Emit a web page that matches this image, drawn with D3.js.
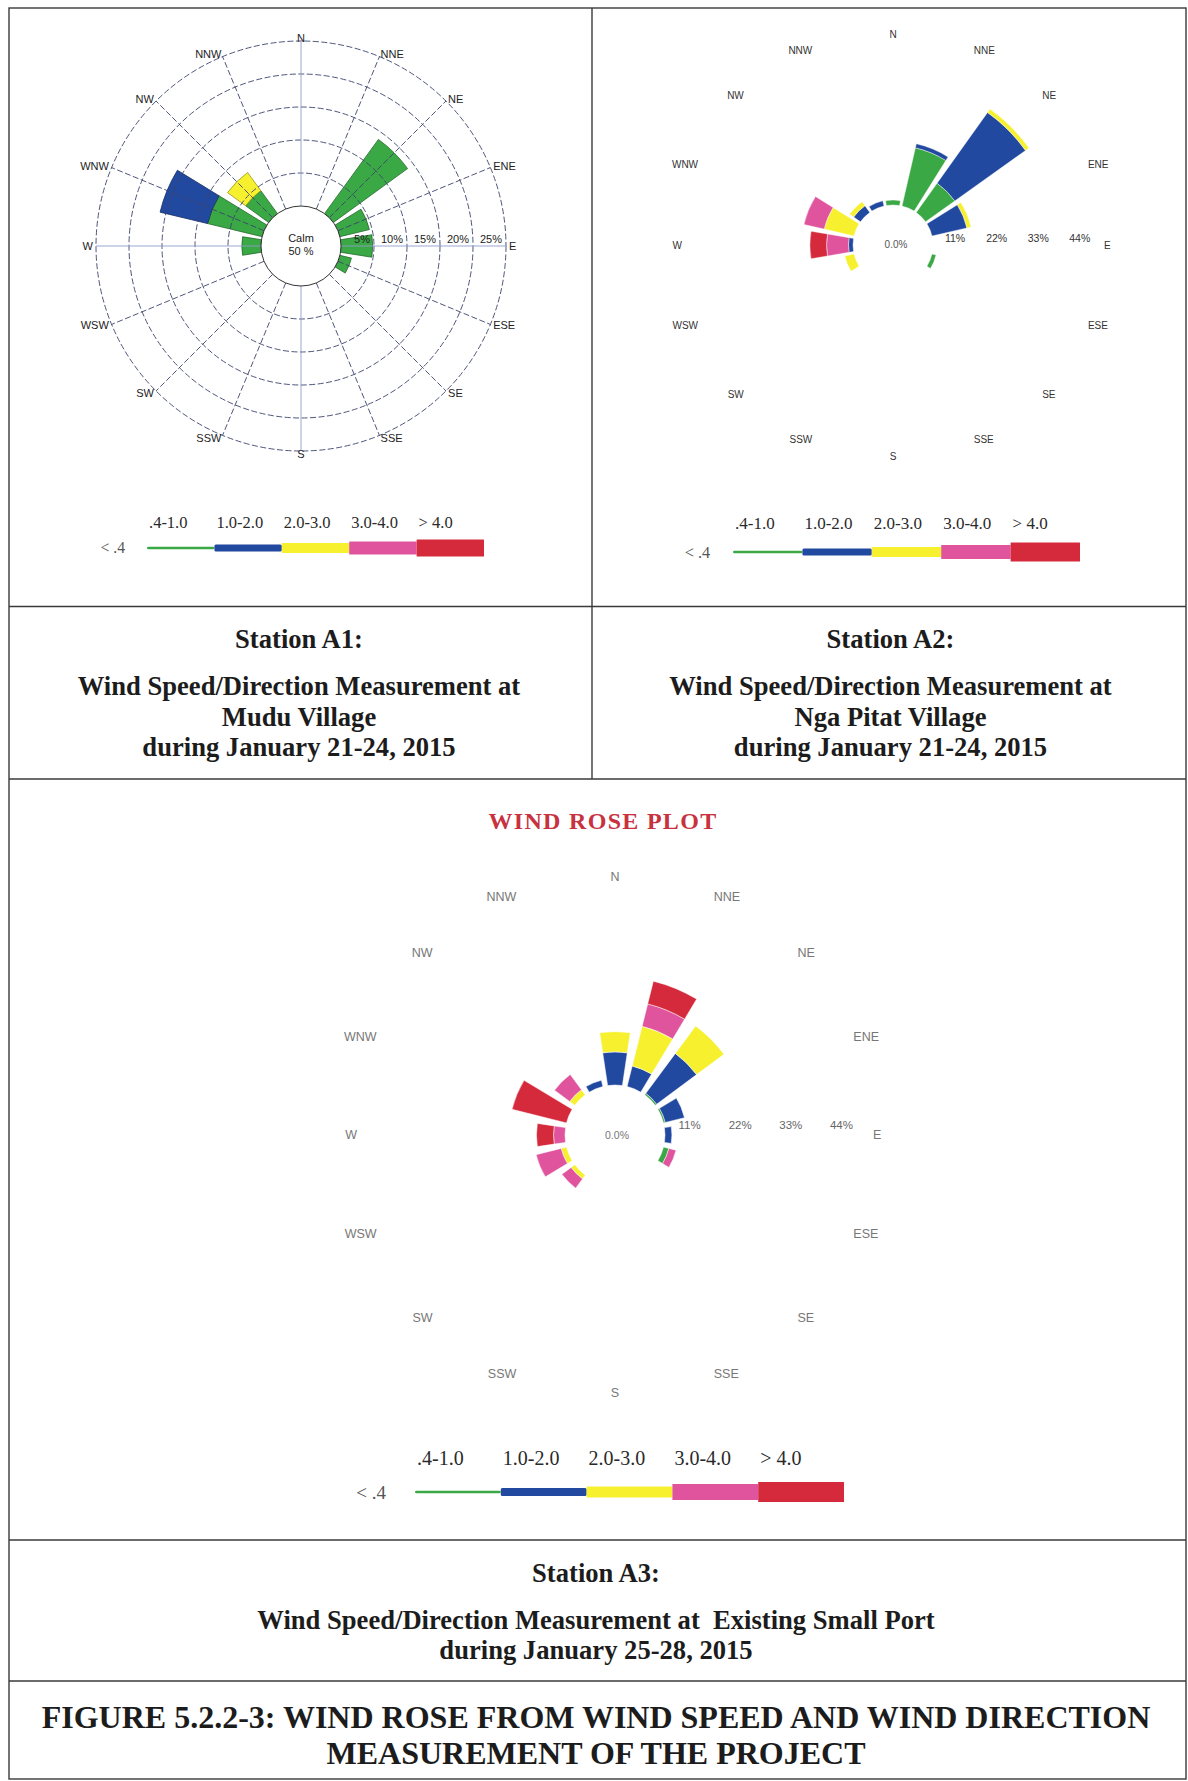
<!DOCTYPE html>
<html><head><meta charset="utf-8">
<script src="https://cdn.jsdelivr.net/npm/d3@7"></script>
<style>
  body { margin: 0; background: #fff; }
  svg { display: block; }
  .sans { font-family: "Liberation Sans", Arial, sans-serif; }
  .serif { font-family: "Liberation Serif", "Times New Roman", serif; }
</style>
</head><body>
<svg id="fig" width="1188" height="1781"></svg>
<script>
// ---- shared categories ----
const directions = ["N","NNE","NE","ENE","E","ESE","SE","SSE","S","SSW","SW","WSW","W","WNW","NW","NNW"];
const speedClasses = [".4-1.0","1.0-2.0","2.0-3.0","3.0-4.0","> 4.0"];
const calmClass = "< .4";
const classColors = ["#3aa845","#2249a0","#f6f02e","#e0549e","#d52a3c"];

// ---- Station A1 (Mudu Village), frequency % per direction ----
const a1Speed04to10 = [0,0,13.9,4.6,4.8,1.8,0,0,0,0,0,0,2.9,8.5,4.3,0];
const a1Speed10to20 = [0,0,0,0,0,0,0,0,0,0,0,0,0,7.4,0,0];
const a1Speed20to30 = [0,0,0,0,0,0,0,0,0,0,0,0,0,0,3.4,0];
const a1Speed30to40 = [0,0,0,0,0,0,0,0,0,0,0,0,0,0,0,0];
const a1SpeedOver40 = [0,0,0,0,0,0,0,0,0,0,0,0,0,0,0,0];
const a1Calm = 50;
const a1RingTicks = [5,10,15,20,25];

// ---- Station A2 (Nga Pitat Village) ----
const a2Speed04to10 = [1.3,15.8,9.5,0,0,1.1,0,0,0,0,0,0,0,0,0,0];
const a2Speed10to20 = [0,1.1,23.0,9.5,0,0,0,0,0,0,0,0,1.2,0,2.2,1.4];
const a2Speed20to30 = [0,0,1.1,1.1,0,0,0,0,0,0,0,2.5,0,8.1,1.3,0];
const a2Speed30to40 = [0,0,0,0,0,0,0,0,0,0,0,0,5.8,5.5,0,0];
const a2SpeedOver40 = [0,0,0,0,0,0,0,0,0,0,0,0,4.4,0,0,0];
const a2Calm = "0.0%";
const a2RingTicks = [11,22,33,44];

// ---- Station A3 (Existing Small Port) ----
const a3Speed04to10 = [0,0,0.4,0.4,0,1.2,0,0,0,0,0,0,0,0,0,0];
const a3Speed10to20 = [7.2,4.6,10.8,4.3,1.5,0,0,0,0,0,0,0,0,0,0,1.4];
const a3Speed20to30 = [4.4,8.9,7.4,0,0,0,0,0,0,0,1.0,1.2,0,0,1.4,0];
const a3Speed30to40 = [0,5.0,0,0,0,1.6,0,0,0,0,2.5,5.6,2.5,0,4.1,0];
const a3SpeedOver40 = [0,5.1,0,0,0,0,0,0,0,0,0,0,3.7,12.2,0,0];
const a3Calm = "0.0%";
const a3RingTicks = [11,22,33,44];

// ---- captions ----
const captionA1 = ["Station A1:", "Wind Speed/Direction Measurement at", "Mudu Village", "during January 21-24, 2015"];
const captionA2 = ["Station A2:", "Wind Speed/Direction Measurement at", "Nga Pitat Village", "during January 21-24, 2015"];
const captionA3 = ["Station A3:", "Wind Speed/Direction Measurement at\u00a0 Existing Small Port", "during January 25-28, 2015"];
const figureTitle = ["FIGURE 5.2.2-3: WIND ROSE FROM WIND SPEED AND WIND DIRECTION", "MEASUREMENT OF THE PROJECT"];
const plotTitle = "WIND ROSE PLOT";

const svg = d3.select("#fig");
const DEG = Math.PI / 180;
const SECTOR = 360 / directions.length;

// stack the speed classes outward for every direction
function stackRose(series) {
  const out = [];
  directions.forEach((dir, i) => {
    let acc = 0;
    series.forEach((arr, k) => {
      const v = arr[i];
      if (v > 0) out.push({ dir, i, k, v0: acc, v1: acc + v });
      acc += v;
    });
  });
  return out;
}

function drawWedges(g, series, r, widthDeg, strokeFn, strokeW) {
  const arc = d3.arc()
    .innerRadius(d => r(d.v0))
    .outerRadius(d => r(d.v1))
    .startAngle(d => (d.i * SECTOR - widthDeg / 2) * DEG)
    .endAngle(d => (d.i * SECTOR + widthDeg / 2) * DEG);
  g.selectAll("path.wedge").data(stackRose(series)).join("path")
    .attr("class", "wedge")
    .attr("d", arc)
    .attr("fill", d => classColors[d.k])
    .attr("stroke", d => strokeFn(d))
    .attr("stroke-width", strokeW);
}

function drawDirLabels(g, R, size, color, cls) {
  g.selectAll("text.dir").data(directions).join("text")
    .attr("class", "dir " + cls)
    .attr("x", (d, i) => R * Math.sin(i * SECTOR * DEG))
    .attr("y", (d, i) => -R * Math.cos(i * SECTOR * DEG))
    .attr("dy", "0.35em")
    .attr("text-anchor", (d, i) => {
      const s = Math.sin(i * SECTOR * DEG);
      return Math.abs(s) < 0.01 ? "middle" : (s > 0 ? "start" : "end");
    })
    .attr("font-size", size)
    .attr("fill", color)
    .text(d => d);
}

function drawLegend(x0, segW, labelY, barY, heights, fontSize, calmGap) {
  const g = svg.append("g");
  const x = d3.scaleLinear().domain([0, speedClasses.length]).range([x0, x0 + segW * speedClasses.length]);
  g.selectAll("rect").data(speedClasses).join("rect")
    .attr("x", (d, i) => x(i))
    .attr("y", (d, i) => barY - heights[i] / 2)
    .attr("width", (d, i) => x(i + 1) - x(i))
    .attr("height", (d, i) => heights[i])
    .attr("rx", (d, i) => (i < 2 ? 1.5 : 0.5))
    .attr("fill", (d, i) => classColors[i]);
  g.selectAll("text.cls").data(speedClasses).join("text")
    .attr("class", "cls serif")
    .attr("x", (d, i) => x(i) + 2)
    .attr("y", labelY)
    .attr("dy", "0.35em")
    .attr("font-size", fontSize)
    .attr("fill", "#2a2a2a")
    .text(d => d);
  g.append("text").attr("class", "serif")
    .attr("x", x0 - calmGap).attr("y", barY).attr("dy", "0.35em")
    .attr("text-anchor", "end")
    .attr("font-size", fontSize * 0.95)
    .attr("fill", "#555")
    .text(calmClass);
}

// ================= Station A1 =================
{
  const cx = 301, cy = 246;
  const r = d3.scaleLinear().domain([0, 25]).range([40, 205]);
  const g = svg.append("g").attr("transform", `translate(${cx},${cy})`);
  const series = [a1Speed04to10, a1Speed10to20, a1Speed20to30, a1Speed30to40, a1SpeedOver40];
  drawWedges(g, series, r, 18, d => d3.color(classColors[d.k]).darker(1.3), 0.8);

  // grid above the bars
  const grid = g.append("g").attr("fill", "none");
  grid.selectAll("circle.ring").data(a1RingTicks).join("circle")
    .attr("class", "ring").attr("r", d => r(d))
    .attr("stroke", "#3b436c").attr("stroke-width", 0.9).attr("stroke-dasharray", "6,2.5");
  grid.selectAll("line.spoke").data(directions).join("line")
    .attr("class", "spoke")
    .attr("x1", (d, i) => r(0) * Math.sin(i * SECTOR * DEG))
    .attr("y1", (d, i) => -r(0) * Math.cos(i * SECTOR * DEG))
    .attr("x2", (d, i) => r(25) * Math.sin(i * SECTOR * DEG))
    .attr("y2", (d, i) => -r(25) * Math.cos(i * SECTOR * DEG))
    .attr("stroke", (d, i) => (i % 4 === 0 ? "#8e9ccc" : "#3b436c"))
    .attr("stroke-width", 0.9)
    .attr("stroke-dasharray", (d, i) => (i % 4 === 0 ? null : "6,2.5"));
  g.append("circle").attr("r", r(0)).attr("fill", "#fff").attr("stroke", "#333").attr("stroke-width", 1);

  g.selectAll("text.tick").data(a1RingTicks).join("text")
    .attr("class", "tick sans")
    .attr("x", d => r(d) - 4).attr("y", -3)
    .attr("text-anchor", "end").attr("font-size", 11).attr("fill", "#222")
    .text(d => d + "%");
  g.append("text").attr("class", "sans").attr("y", -4).attr("text-anchor", "middle")
    .attr("font-size", 11).attr("fill", "#222").text("Calm");
  g.append("text").attr("class", "sans").attr("y", 9).attr("text-anchor", "middle")
    .attr("font-size", 11).attr("fill", "#222").text(a1Calm + " %");
  drawDirLabels(g, 208, 11, "#222", "sans");
  drawLegend(147, 67.4, 522, 548, [2.5, 7, 10, 13, 17], 16.5, 22);
}

// ================= Station A2 =================
{
  const cx = 893, cy = 245;
  const r = d3.scaleLinear().domain([0, 44]).range([40, 206.3]);
  const g = svg.append("g").attr("transform", `translate(${cx},${cy})`);
  const series = [a2Speed04to10, a2Speed10to20, a2Speed20to30, a2Speed30to40, a2SpeedOver40];
  drawWedges(g, series, r, 19, () => "#fff", 0.4);
  g.selectAll("text.tick").data(a2RingTicks).join("text")
    .attr("class", "tick sans")
    .attr("x", d => r(d) - 19.5).attr("y", -7).attr("dy", "0.35em")
    .attr("text-anchor", "middle").attr("font-size", 10.5).attr("fill", "#333")
    .text(d => d + "%");
  g.append("text").attr("class", "sans").attr("x", 3).attr("y", -1).attr("dy", "0.35em")
    .attr("text-anchor", "middle").attr("font-size", 10).attr("fill", "#555").text(a2Calm);
  drawDirLabels(g, 211, 10, "#333", "sans");
  drawLegend(733, 69.4, 523, 552, [2.5, 7, 10, 14, 19], 17, 23);
}

// ================= Station A3 =================
{
  const cx = 615, cy = 1135;
  const r = d3.scaleLinear().domain([0, 44]).range([50, 252.4]);
  const g = svg.append("g").attr("transform", `translate(${cx},${cy})`);
  const series = [a3Speed04to10, a3Speed10to20, a3Speed20to30, a3Speed30to40, a3SpeedOver40];
  drawWedges(g, series, r, 17, () => "#fff", 0.5);
  g.selectAll("text.tick").data(a3RingTicks).join("text")
    .attr("class", "tick sans")
    .attr("x", d => r(d) - 26).attr("y", -10).attr("dy", "0.35em")
    .attr("text-anchor", "middle").attr("font-size", 11.5).attr("fill", "#666")
    .text(d => d + "%");
  g.append("text").attr("class", "sans").attr("x", 2).attr("y", 0).attr("dy", "0.35em")
    .attr("text-anchor", "middle").attr("font-size", 10.5).attr("fill", "#777").text(a3Calm);
  drawDirLabels(g, 258, 12.5, "#777", "sans");
  drawLegend(415, 85.8, 1458, 1492, [2.5, 8, 11, 16, 20], 20, 29);

  svg.append("text").attr("class", "serif")
    .attr("x", 603).attr("y", 829).attr("text-anchor", "middle")
    .attr("font-size", 24).attr("font-weight", "bold").attr("letter-spacing", 1.3)
    .attr("fill", "#c8323f").text(plotTitle);
}

// ================= frame =================
const frame = svg.append("g").attr("fill", "none").attr("stroke", "#3a3a3a").attr("stroke-width", 1.4);
frame.append("rect").attr("x", 9).attr("y", 8).attr("width", 1177).attr("height", 1771);
[606.5, 779, 1540, 1681].forEach(y => frame.append("line").attr("x1", 9).attr("x2", 1186).attr("y1", y).attr("y2", y));
frame.append("line").attr("x1", 592).attr("x2", 592).attr("y1", 8).attr("y2", 779);

// ================= captions =================
function caption(lines, x, ys, size) {
  svg.append("g").selectAll("text").data(lines).join("text")
    .attr("class", "serif")
    .attr("x", x).attr("y", (d, i) => ys[i])
    .attr("text-anchor", "middle")
    .attr("font-size", size).attr("font-weight", "bold").attr("fill", "#1c1c1c")
    .text(d => d);
}
caption(captionA1, 299, [648, 695, 726, 756], 26.6);
caption(captionA2, 890.5, [648, 695, 726, 756], 26.6);
caption(captionA3, 596, [1582, 1629, 1659], 26.6);
caption(figureTitle, 596, [1728, 1764], 32);
</script>
</body></html>
